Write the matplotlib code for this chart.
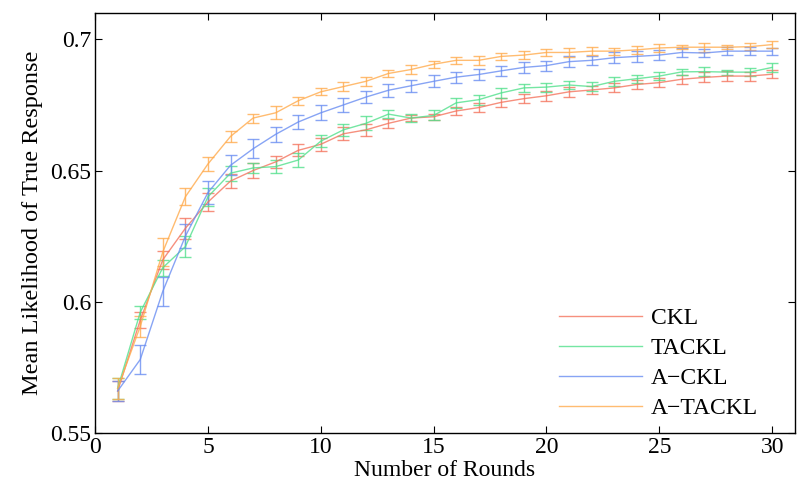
import numpy as np
import matplotlib
matplotlib.use("Agg")
import matplotlib.pyplot as plt
from matplotlib.ticker import FuncFormatter

plt.rcParams['font.family'] = ['Liberation Serif', 'DejaVu Serif']
plt.rcParams['mathtext.fontset'] = 'stix'

rounds = np.arange(1, 31)

labels = ['CKL', 'TACKL', 'A\u2212CKL', 'A\u2212TACKL']
colors = ['#f4745e', '#52e08c', '#6a8ef2', '#ffab4d']

ckl = [0.566, 0.593, 0.616, 0.628, 0.638, 0.646, 0.650, 0.6533, 0.6577, 0.660,
       0.664, 0.6655, 0.668, 0.670, 0.6705, 0.6727, 0.674, 0.676, 0.6774, 0.6785,
       0.680, 0.6807, 0.6815, 0.6828, 0.6835, 0.6848, 0.6855, 0.686, 0.686, 0.6867]
ckl_err = [0.004, 0.003, 0.0035, 0.004, 0.0034, 0.0027, 0.0027, 0.0024, 0.0023, 0.0024,
           0.0025, 0.0022, 0.0018, 0.001, 0.0011, 0.0016, 0.0018, 0.0017, 0.0017, 0.0019,
           0.002, 0.0016, 0.0017, 0.0016, 0.0018, 0.0017, 0.0019, 0.002, 0.0017, 0.0015]

tackl = [0.567, 0.596, 0.613, 0.621, 0.640, 0.649, 0.651, 0.6515, 0.654, 0.6612,
         0.6655, 0.668, 0.6715, 0.670, 0.671, 0.6758, 0.677, 0.6796, 0.6815, 0.6818,
         0.6826, 0.682, 0.684, 0.685, 0.686, 0.6876, 0.6877, 0.6875, 0.6875, 0.6893]
tackl_err = [0.004, 0.0025, 0.003, 0.004, 0.0035, 0.0028, 0.0019, 0.0024, 0.0025, 0.0024,
             0.0022, 0.0027, 0.0015, 0.0016, 0.0019, 0.002, 0.0019, 0.002, 0.0015, 0.0017,
             0.0016, 0.0017, 0.0017, 0.0015, 0.0015, 0.0012, 0.0018, 0.001, 0.0016, 0.0016]

ackl = [0.566, 0.578, 0.604, 0.625, 0.6416, 0.652, 0.6583, 0.6638, 0.6685, 0.672,
        0.675, 0.678, 0.6806, 0.6823, 0.684, 0.6856, 0.6866, 0.688, 0.6893, 0.690,
        0.6915, 0.692, 0.693, 0.6935, 0.694, 0.695, 0.6948, 0.6955, 0.6955, 0.6955]
ackl_err = [0.004, 0.0056, 0.0056, 0.0046, 0.0045, 0.0038, 0.0037, 0.0029, 0.0027, 0.0028,
            0.0027, 0.0024, 0.0025, 0.0022, 0.0023, 0.0021, 0.0022, 0.002, 0.002, 0.0019,
            0.0022, 0.0016, 0.002, 0.002, 0.0019, 0.0018, 0.0015, 0.0014, 0.0015, 0.0013]

atackl = [0.567, 0.5906, 0.619, 0.640, 0.6525, 0.663, 0.670, 0.672, 0.6766, 0.680,
          0.682, 0.684, 0.687, 0.6885, 0.6905, 0.692, 0.692, 0.6935, 0.694, 0.695,
          0.695, 0.6955, 0.6955, 0.696, 0.6967, 0.697, 0.697, 0.697, 0.6972, 0.698]
atackl_err = [0.004, 0.004, 0.0052, 0.0033, 0.0028, 0.0021, 0.0017, 0.0025, 0.0016, 0.0014,
              0.0016, 0.0016, 0.0015, 0.0017, 0.0013, 0.0013, 0.0018, 0.0013, 0.0014, 0.0012,
              0.0016, 0.0014, 0.0013, 0.0015, 0.0014, 0.0008, 0.0017, 0.0008, 0.0014, 0.0013]

series = [(ckl, ckl_err), (tackl, tackl_err), (ackl, ackl_err), (atackl, atackl_err)]

fig = plt.figure(figsize=(8.06, 4.94), dpi=100)
ax = fig.add_axes([0.118, 0.1235, 0.868, 0.850])

for (m, e), lab, c in zip(series, labels, colors):
    ax.errorbar(rounds, m, yerr=e, color=c, lw=1.0, elinewidth=1.0,
                capsize=4.5, capthick=1.0, alpha=0.8, label=lab)

ax.set_xlim(0, 31)
ax.set_ylim(0.55, 0.71)
ax.set_xticks(range(0, 31, 5))
ax.set_yticks([0.55, 0.6, 0.65, 0.7])
ax.yaxis.set_major_formatter(FuncFormatter(lambda v, p: ('%.2f' % v).rstrip('0')))
ax.tick_params(direction='in', top=True, right=True, length=5, width=0.8,
               labelsize=17, pad=3)
for s in ax.spines.values():
    s.set_linewidth(1.0)

ax.set_xlabel('Number of Rounds', fontsize=17, labelpad=1)
ax.set_ylabel('Mean Likelihood of True Response', fontsize=17.5, labelpad=5)

handles, labs = ax.get_legend_handles_labels()
handles = [h[0] for h in handles]
ax.legend(handles, labs, loc='lower right', frameon=False, fontsize=17,
          handlelength=3.5, handletextpad=0.4, labelspacing=0.36,
          bbox_to_anchor=(0.978, -0.018))

plt.savefig('out.png', dpi=100)
